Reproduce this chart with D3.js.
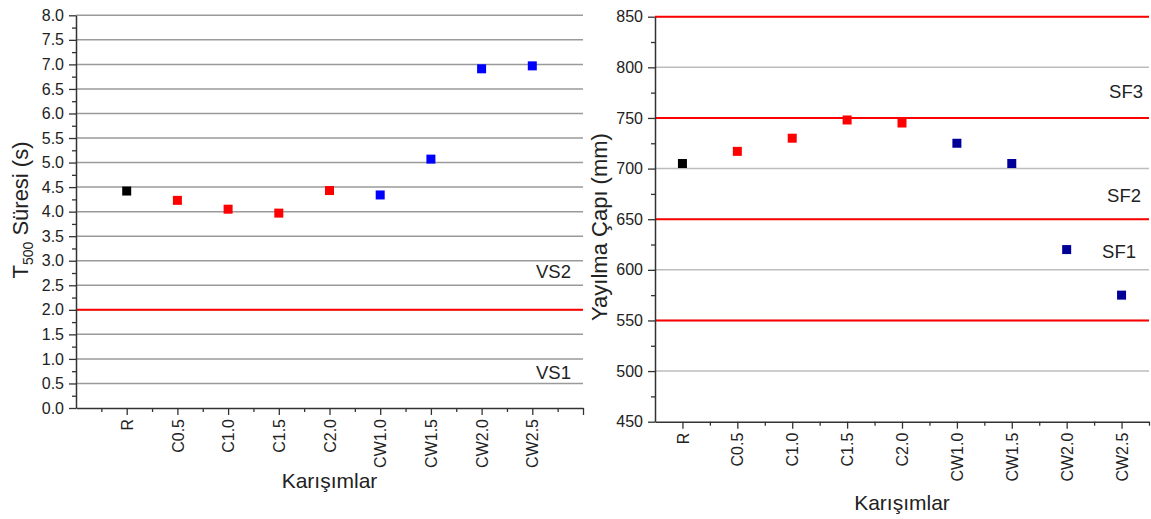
<!DOCTYPE html>
<html>
<head>
<meta charset="utf-8">
<script src="https://cdn.jsdelivr.net/npm/d3@7"></script>
<style>
  html, body { margin: 0; padding: 0; background: #fff; }
  svg text { font-family: "Liberation Sans", Arial, sans-serif; fill: #222; }
</style>
</head>
<body>
<svg id="chart" width="1151" height="519"></svg>
<script>
// Mix names and measured results
const categories = ["R", "C0.5", "C1.0", "C1.5", "C2.0", "CW1.0", "CW1.5", "CW2.0", "CW2.5"];
const mixGroup   = ["R", "C", "C", "C", "C", "CW", "CW", "CW", "CW"];
const t500Values   = [4.42, 4.23, 4.05, 3.97, 4.43, 4.34, 5.07, 6.91, 6.97];
const spreadValues = [705, 717, 730, 748, 745, 725, 705, 620, 575];

// Class limits and class names
const vsLimits = [2.0];
const vsLabels = [{ text: "VS2", v: 2.75, x: 571 }, { text: "VS1", v: 0.7, x: 571 }];
const sfLimits = [550, 650, 750, 850];
const sfLabels = [{ text: "SF3", v: 775, x: 1143 }, { text: "SF2", v: 672, x: 1141 }, { text: "SF1", v: 617, x: 1136 }];

const t500Ticks = d3.range(0, 8.01, 0.5);
const spreadTicks = d3.range(450, 851, 50);

const FONT = "'Liberation Sans', Arial, sans-serif";
const svg = d3.select("#chart");

function drawPanel(opt) {
  const g = svg.append("g");
  const x = d3.scaleLinear().domain(opt.xDomain).range(opt.xRange);
  const y = d3.scaleLinear().domain(opt.yDomain).range(opt.yRange);
  const [x0, x1] = opt.xRange;
  const yBottom = opt.yRange[0];

  // horizontal grid
  g.append("g").selectAll("line").data(opt.yTicks.filter(v => v !== opt.yDomain[0])).join("line")
    .attr("x1", x0).attr("x2", x1)
    .attr("y1", d => y(d)).attr("y2", d => y(d))
    .attr("stroke", opt.gridColor).attr("stroke-width", 1.5);

  // limit lines
  g.append("g").selectAll("line").data(opt.limits).join("line")
    .attr("x1", x0).attr("x2", x1)
    .attr("y1", d => y(d)).attr("y2", d => y(d))
    .attr("stroke", "#ff0000").attr("stroke-width", 2);

  // class labels
  g.append("g").selectAll("text").data(opt.classLabels).join("text")
    .attr("x", d => d.x).attr("y", d => y(d.v))
    .attr("text-anchor", "end").attr("dominant-baseline", "middle")
    .attr("font-size", 18.5).text(d => d.text);

  // y axis
  const yAxis = d3.axisLeft(y).tickValues(opt.yTicks).tickFormat(opt.yFormat)
    .tickSize(7).tickPadding(5).tickSizeOuter(0);
  const ya = g.append("g").attr("transform", `translate(${x0},0)`).call(yAxis);
  ya.selectAll("text").attr("font-size", 16).style("font-family", FONT).attr("fill", "#222");
  ya.select(".domain").attr("stroke", "#333").attr("stroke-width", 1.5);
  ya.selectAll(".tick line").attr("stroke", "#333").attr("stroke-width", 1.3);
  // y minor ticks
  const yMinor = d3.axisLeft(y).tickValues(opt.yMinor).tickFormat("").tickSize(4).tickSizeOuter(0);
  const ym = g.append("g").attr("transform", `translate(${x0},0)`).call(yMinor);
  ym.select(".domain").remove();
  ym.selectAll(".tick line").attr("stroke", "#333").attr("stroke-width", 1.3);

  // x axis
  const xAxis = d3.axisBottom(x).tickValues(opt.xTicks)
    .tickFormat(d => categories[d - 1] || "")
    .tickSize(7).tickPadding(4).tickSizeOuter(0);
  const xa = g.append("g").attr("transform", `translate(0,${yBottom})`).call(xAxis);
  xa.select(".domain").attr("stroke", "#333").attr("stroke-width", 1.5);
  xa.selectAll(".tick line").attr("stroke", "#333").attr("stroke-width", 1.3);
  xa.selectAll("text")
    .attr("font-size", 16).style("font-family", FONT).attr("fill", "#222")
    .attr("transform", "rotate(-90)")
    .attr("text-anchor", "end")
    .attr("x", -11).attr("y", 0).attr("dy", "0.35em");
  const xMinor = d3.axisBottom(x).tickValues(opt.xMinor).tickFormat("").tickSize(4).tickSizeOuter(0);
  const xm = g.append("g").attr("transform", `translate(0,${yBottom})`).call(xMinor);
  xm.select(".domain").remove();
  xm.selectAll(".tick line").attr("stroke", "#333").attr("stroke-width", 1.3);

  // points
  const s = 9;
  g.append("g").selectAll("rect").data(opt.values).join("rect")
    .attr("x", (d, i) => x(i + 1) - s / 2)
    .attr("y", d => y(d) - s / 2)
    .attr("width", s).attr("height", s)
    .attr("fill", (d, i) => opt.colors[mixGroup[i]]);

  // axis titles
  g.append("text")
    .attr("x", (x0 + x1) / 2).attr("y", opt.xTitleY)
    .attr("text-anchor", "middle").attr("font-size", 21).text("Karışımlar");

  const yt = g.append("text")
    .attr("transform", `translate(${opt.yTitleX},${opt.yTitleY}) rotate(-90)`)
    .attr("text-anchor", "middle").attr("font-size", 22);
  opt.yTitle(yt);
}

drawPanel({
  xDomain: [0, 10], xRange: [76, 583],
  yDomain: [0, 8], yRange: [408, 15.3],
  yTicks: t500Ticks,
  yMinor: d3.range(0.25, 8, 0.5),
  yFormat: d3.format(".1f"),
  xTicks: d3.range(1, 11),
  xMinor: d3.range(0.5, 10, 1),
  gridColor: "#9a9a9a",
  limits: vsLimits,
  classLabels: vsLabels,
  values: t500Values,
  colors: { R: "#000000", C: "#ff0000", CW: "#0000ff" },
  xTitleY: 488,
  yTitleX: 28, yTitleY: 210,
  yTitle: t => {
    t.append("tspan").text("T");
    t.append("tspan").attr("font-size", 14).attr("dy", 5).text("500");
    t.append("tspan").attr("dy", -5).text(" Süresi (s)");
  }
});

drawPanel({
  xDomain: [0.5, 9.5], xRange: [655, 1149],
  yDomain: [450, 850], yRange: [421.7, 16.7],
  yTicks: spreadTicks,
  yMinor: d3.range(475, 850, 50),
  yFormat: d3.format("d"),
  xTicks: d3.range(1, 10),
  xMinor: d3.range(1.5, 9.6, 1),
  gridColor: "#bdbdbd",
  limits: sfLimits,
  classLabels: sfLabels,
  values: spreadValues,
  colors: { R: "#000000", C: "#ff0000", CW: "#000099" },
  xTitleY: 510,
  yTitleX: 607, yTitleY: 227,
  yTitle: t => t.text("Yayılma Çapı (mm)")
});
</script>
</body>
</html>
